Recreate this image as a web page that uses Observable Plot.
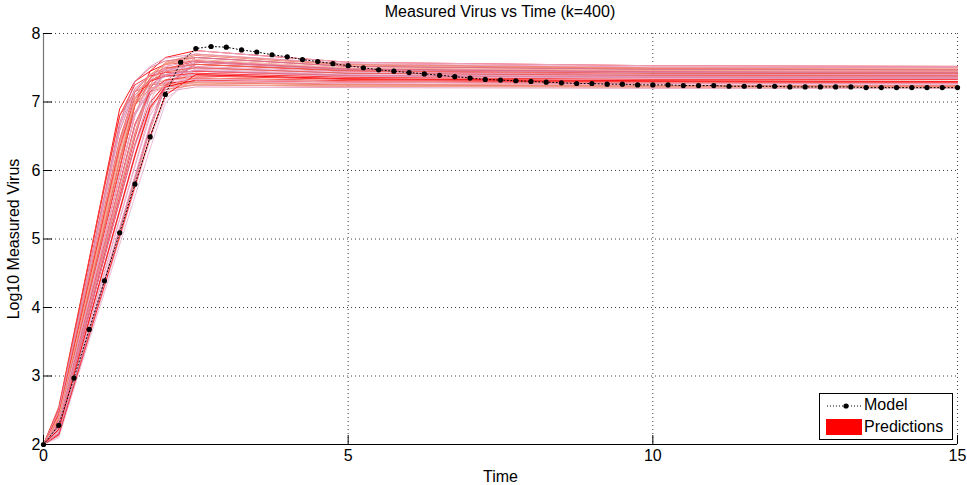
<!DOCTYPE html>
<html>
<head>
<meta charset="utf-8">
<script src="https://cdn.jsdelivr.net/npm/d3@7"></script>
<script src="https://cdn.jsdelivr.net/npm/@observablehq/plot@0.6"></script>
<style>
  html, body { margin: 0; padding: 0; background: #fff; }
  #wrap { position: relative; width: 967px; height: 485px; font-family: "Liberation Sans", Arial, sans-serif; }
  #title { height: 22px; line-height: 24px; margin-left: 43px; width: 914px; text-align: center; font-size: 16px; color: #000; }
  #legend { position: absolute; left: 819px; top: 393px; width: 132px; height: 45px; border: 1px solid #000; background: #fff; font-size: 16px; }
  #legend svg { position: absolute; left: 0; top: 0; }
  #legend span { position: absolute; left: 44px; white-space: nowrap; }
</style>
</head>
<body>
<div id="wrap">
  <div id="title">Measured Virus vs Time (k=400)</div>
  <div id="chart"></div>
  <div id="legend">
    <svg width="44" height="45">
      <line x1="7" x2="41" y1="12" y2="12" stroke="#000" stroke-dasharray="1,2" stroke-width="1"></line>
      <circle cx="26" cy="12" r="2.6" fill="#000"></circle>
      <rect x="6" y="25" width="36" height="16" fill="#ff0000"></rect>
    </svg>
    <span style="top:2px">Model</span>
    <span style="top:24px">Predictions</span>
  </div>
</div>
<script>
// Model curve (sampled every 0.25 time units)
const modelTime = d3.range(0, 15.001, 0.25);
const modelValue = [
  2.00, 2.28, 2.97, 3.68, 4.39, 5.09, 5.80, 6.49, 7.11, 7.58,
  7.78, 7.81, 7.80, 7.76, 7.73, 7.69, 7.66, 7.62, 7.59, 7.56,
  7.53, 7.50, 7.47, 7.45, 7.43, 7.41, 7.39, 7.37, 7.35, 7.33,
  7.32, 7.31, 7.30, 7.29, 7.28, 7.27, 7.27, 7.26, 7.26, 7.25,
  7.25, 7.25, 7.24, 7.24, 7.24, 7.23, 7.23, 7.23, 7.23, 7.22,
  7.22, 7.22, 7.22, 7.22, 7.21, 7.21, 7.21, 7.21, 7.21, 7.21, 7.21
];

// Prediction runs: values read at predTime
const predTime = [0, 0.25, 1, 1.25, 1.5, 1.75, 2, 2.5, 5, 10, 15];
const predictionRuns = [
  [2, 2.50, 5.80, 6.90, 7.30, 7.45, 7.55, 7.60, 7.48, 7.45, 7.44],
  [2, 2.40, 5.40, 6.40, 7.05, 7.25, 7.32, 7.35, 7.30, 7.28, 7.28],
  [2, 2.30, 5.00, 5.90, 6.80, 7.35, 7.58, 7.70, 7.55, 7.50, 7.50],
  [2, 2.20, 4.60, 5.40, 6.20, 6.95, 7.30, 7.45, 7.38, 7.35, 7.34],
  [2, 2.35, 5.20, 6.15, 6.85, 7.15, 7.22, 7.25, 7.23, 7.22, 7.22],
  [2, 2.15, 4.40, 5.15, 5.90, 6.65, 7.25, 7.55, 7.45, 7.40, 7.39],
  [2, 2.45, 5.60, 6.65, 7.20, 7.38, 7.46, 7.50, 7.42, 7.39, 7.38],
  [2, 2.28, 4.90, 5.78, 6.65, 7.15, 7.32, 7.40, 7.34, 7.31, 7.30],
  [2, 2.10, 4.28, 5.00, 5.73, 6.45, 7.05, 7.35, 7.30, 7.27, 7.26],
  [2, 2.55, 5.78, 6.80, 7.15, 7.25, 7.28, 7.30, 7.26, 7.24, 7.24],
  [2, 2.32, 5.10, 6.02, 6.95, 7.45, 7.65, 7.75, 7.58, 7.53, 7.52],
  [2, 2.25, 4.72, 5.55, 6.35, 6.95, 7.15, 7.22, 7.21, 7.20, 7.20],
  [2, 2.38, 5.30, 6.28, 7.05, 7.40, 7.55, 7.65, 7.52, 7.48, 7.47],
  [2, 2.18, 4.50, 5.28, 6.05, 6.80, 7.18, 7.30, 7.27, 7.25, 7.25],
  [2, 2.42, 5.42, 6.42, 7.10, 7.32, 7.40, 7.45, 7.38, 7.36, 7.35],
  [2, 2.22, 4.78, 5.62, 6.48, 7.20, 7.48, 7.60, 7.48, 7.44, 7.43],
  [2, 2.48, 5.55, 6.58, 7.15, 7.32, 7.37, 7.40, 7.33, 7.30, 7.30],
  [2, 2.30, 4.92, 5.80, 6.65, 7.10, 7.24, 7.28, 7.25, 7.24, 7.23],
  [2, 2.12, 4.22, 4.92, 5.62, 6.32, 6.98, 7.50, 7.42, 7.38, 7.37],
  [2, 2.36, 5.20, 6.15, 7.00, 7.35, 7.48, 7.55, 7.46, 7.42, 7.41],
  [2, 2.26, 4.74, 5.56, 6.38, 7.00, 7.25, 7.35, 7.31, 7.29, 7.28],
  [2, 2.44, 5.60, 6.65, 7.30, 7.52, 7.64, 7.70, 7.56, 7.51, 7.50],
  [2, 2.20, 4.60, 5.40, 6.20, 6.90, 7.18, 7.25, 7.23, 7.22, 7.22],
  [2, 2.34, 5.04, 5.94, 6.80, 7.25, 7.40, 7.45, 7.38, 7.35, 7.34],
  [2, 2.16, 4.40, 5.15, 5.90, 6.65, 7.30, 7.65, 7.52, 7.47, 7.46],
  [2, 2.52, 5.75, 6.80, 7.25, 7.38, 7.43, 7.45, 7.39, 7.37, 7.36],
  [2, 2.28, 4.83, 5.68, 6.53, 7.15, 7.40, 7.50, 7.42, 7.39, 7.38],
  [2, 2.40, 5.32, 6.30, 7.00, 7.25, 7.32, 7.35, 7.30, 7.28, 7.28],
  [2, 2.24, 4.64, 5.44, 6.24, 7.00, 7.50, 7.75, 7.58, 7.53, 7.52],
  [2, 2.46, 5.46, 6.46, 7.15, 7.40, 7.50, 7.55, 7.46, 7.42, 7.42],
  [2, 2.14, 4.32, 5.04, 5.77, 6.50, 7.10, 7.40, 7.34, 7.31, 7.30],
  [2, 2.32, 5.02, 5.92, 6.82, 7.32, 7.52, 7.60, 7.49, 7.45, 7.44],
  [2, 2.38, 5.23, 6.18, 6.95, 7.20, 7.26, 7.28, 7.25, 7.23, 7.23],
  [2, 2.20, 4.52, 5.30, 6.08, 6.85, 7.28, 7.48, 7.40, 7.37, 7.36],
  [2, 2.50, 5.65, 6.70, 7.30, 7.50, 7.60, 7.65, 7.52, 7.48, 7.47],
  [2, 2.30, 4.92, 5.80, 6.68, 7.15, 7.32, 7.38, 7.33, 7.30, 7.29],
  [2, 2.26, 4.74, 5.56, 6.38, 7.10, 7.45, 7.58, 7.47, 7.43, 7.43],
  [2, 2.42, 5.42, 6.40, 6.98, 7.18, 7.23, 7.25, 7.23, 7.22, 7.21],
  [2, 2.18, 4.43, 5.18, 5.93, 6.68, 7.20, 7.42, 7.36, 7.33, 7.33],
  [2, 2.36, 5.14, 6.06, 6.95, 7.30, 7.44, 7.50, 7.42, 7.39, 7.38],
  [2, 2.22, 4.62, 5.42, 6.22, 6.92, 7.22, 7.32, 7.29, 7.27, 7.27],
  [2, 2.48, 5.55, 6.58, 7.18, 7.40, 7.48, 7.52, 7.44, 7.40, 7.40],
  [2, 2.30, 4.85, 5.70, 6.55, 7.25, 7.56, 7.68, 7.54, 7.49, 7.48],
  [2, 2.34, 5.04, 5.94, 6.80, 7.18, 7.29, 7.33, 7.29, 7.27, 7.27],
  [2, 2.16, 4.37, 5.11, 5.85, 6.59, 7.22, 7.58, 7.48, 7.44, 7.43],
  [2, 2.44, 5.37, 6.34, 7.05, 7.30, 7.38, 7.42, 7.36, 7.33, 7.33],
  [2, 2.28, 4.90, 5.78, 6.65, 7.22, 7.40, 7.46, 7.39, 7.36, 7.35],
  [2, 2.40, 5.25, 6.20, 7.05, 7.40, 7.55, 7.62, 7.50, 7.46, 7.45]
];

const xTicks = [0, 5, 10, 15];
const yTicks = [2, 3, 4, 5, 6, 7, 8];

const palette = ["#ff0000", "#e597b8", "#ef7a66", "#e9a6c4", "#dd6f8c", "#ff2a2a", "#d98aae", "#f3a594", "#e8b4cf", "#f05a4a"];

const model = modelTime.map((t, i) => ({t, v: modelValue[i]}));
const preds = predictionRuns.flatMap((run, k) => run.map((v, i) => ({run: k, t: predTime[i], v})));

const chart = Plot.plot({
  width: 967,
  height: 463,
  marginLeft: 43,
  marginRight: 10,
  marginTop: 11,
  marginBottom: 41,
  style: {fontFamily: "'Liberation Sans', Arial, sans-serif", fontSize: "16px", color: "#000", background: "#fff"},
  x: {domain: [0, 15]},
  y: {domain: [2, 8]},
  marks: [
    Plot.gridX(xTicks.filter(d => d > 0), {stroke: "#000", strokeOpacity: 0.75, strokeDasharray: "1,3"}),
    Plot.gridY(yTicks.filter(d => d > 2), {stroke: "#000", strokeOpacity: 0.75, strokeDasharray: "1,3"}),
    Plot.line(preds, {x: "t", y: "v", z: "run", stroke: d => palette[d.run % palette.length], strokeWidth: 1, strokeOpacity: 0.9}),
    Plot.line(model, {x: "t", y: "v", stroke: "#000", strokeWidth: 1, strokeDasharray: "1,2.5"}),
    Plot.dot(model, {x: "t", y: "v", r: 2.6, fill: "#000", stroke: "none"}),
    Plot.ruleX([0], {stroke: "#777", strokeWidth: 1.2}),
    Plot.ruleY([2], {stroke: "#000", strokeWidth: 1.2}),
    Plot.axisY({ticks: yTicks, tickSize: -9, tickPadding: 12, tickFormat: d => String(d), label: "Log10 Measured Virus", labelAnchor: "center", labelArrow: "none", labelOffset: 36, fontSize: 16}),
    Plot.axisX({ticks: xTicks, tickSize: -9, tickPadding: 14, tickFormat: d => String(d), label: "Time", labelAnchor: "center", labelArrow: "none", labelOffset: 37, fontSize: 16})
  ]
});
document.getElementById("chart").appendChild(chart);
</script>
</body>
</html>
